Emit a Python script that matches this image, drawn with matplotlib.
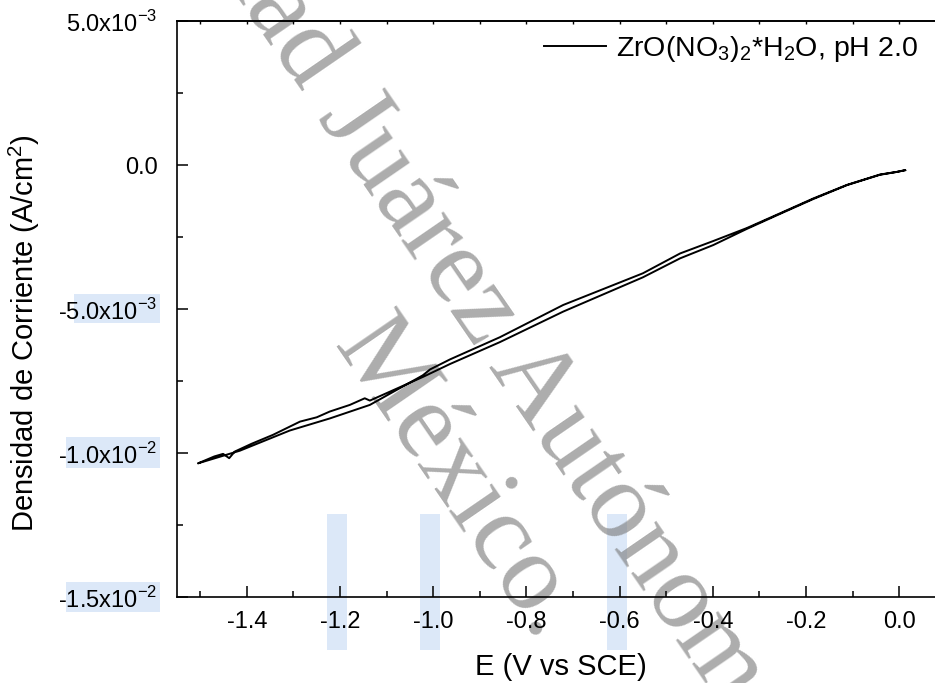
import matplotlib
matplotlib.use("Agg")
import matplotlib.pyplot as plt
import numpy as np
from matplotlib.patches import Rectangle
from matplotlib.ticker import MultipleLocator, FixedLocator, FixedFormatter

plt.rcParams['font.family'] = ['Liberation Sans', 'DejaVu Sans']

# cathodic sweep (0 -> -1.5 V), current density in mA/cm2
E_fwd = [0.013, -0.005, -0.041, -0.112, -0.184, -0.256, -0.327, -0.399, -0.470, -0.550,
         -0.721, -0.857, -0.964, -1.007, -1.022, -1.136, -1.222, -1.308, -1.415, -1.505]
j_fwd = [-0.18, -0.24, -0.33, -0.69, -1.16, -1.68, -2.19, -2.64, -3.07, -3.76,
         -4.86, -5.98, -6.75, -7.10, -7.30, -8.33, -8.80, -9.22, -9.92, -10.36]

# return sweep (-1.5 -> 0 V)
E_rev = [-1.505, -1.470, -1.451, -1.438, -1.426, -1.390, -1.344, -1.286, -1.250,
         -1.222, -1.179, -1.147, -1.136, -1.093, -1.021, -0.964, -0.857, -0.721,
         -0.550, -0.470, -0.399, -0.327, -0.256, -0.184, -0.112, -0.041, -0.005, 0.013]
j_rev = [-10.36, -10.12, -10.03, -10.18, -9.95, -9.68, -9.37, -8.91, -8.76,
         -8.56, -8.33, -8.10, -8.18, -7.87, -7.35, -6.91, -6.15, -5.09,
         -3.90, -3.24, -2.78, -2.22, -1.70, -1.18, -0.70, -0.34, -0.24, -0.18]

E = np.array(E_fwd + E_rev)
j = np.array(j_fwd + j_rev) * 1e-3

x_ticks = [-1.4, -1.2, -1.0, -0.8, -0.6, -0.4, -0.2, 0.0]
y_ticks = [-1.5e-2, -1.0e-2, -5.0e-3, 0.0, 5.0e-3]
y_labels = [r'-1.5x10$^{\mathregular{-2}}$', r'-1.0x10$^{\mathregular{-2}}$',
            r'-5.0x10$^{\mathregular{-3}}$', '0.0', r'5.0x10$^{\mathregular{-3}}$']
legend_label = r'ZrO(NO$_{\mathregular{3}}$)$_{\mathregular{2}}$*H$_{\mathregular{2}}$O, pH 2.0'

W, H = 935, 683
fig = plt.figure(figsize=(W / 100, H / 100), dpi=100)

# pale blue selection highlights (pixel boxes: x0, y0, x1, y1 from top-left)
highlights = [(74, 294, 160, 323), (66, 437, 160, 468), (66, 582, 160, 612),
              (327, 514, 347, 650), (420, 514, 440, 650), (607, 514, 627, 650)]
for x0, y0, x1, y1 in highlights:
    fig.patches.append(Rectangle((x0 / W, 1 - y1 / H), (x1 - x0) / W, (y1 - y0) / H,
                                 transform=fig.transFigure, facecolor='#dce8f8',
                                 edgecolor='none', zorder=-3))

# watermark
ang = -55.5
wm = dict(family='Liberation Serif', fontsize=79, color='#7a7a7a', alpha=0.62,
          rotation=ang, rotation_mode='anchor', va='baseline', zorder=-2)
ux, uy = np.cos(np.radians(ang)), np.sin(np.radians(ang))
p1 = (317 / W, 1 - 117 / H)
fig.text(p1[0], p1[1], 'Juárez Autónoma', ha='left', **wm)
fig.text(p1[0] - 27 * ux / W, p1[1] - 27 * uy / H, 'Universidad', ha='right', **wm)
fig.text(333 / W, 1 - 346 / H, 'México.', ha='left', **wm)

ax = fig.add_axes([177 / W, 1 - 597 / H, 1 - 177 / W, (597 - 21) / H])
ax.patch.set_visible(False)
ax.plot(E, j, color='black', lw=1.4, label=legend_label)

ax.set_xlim(-1.55, 0.077)
ax.set_ylim(-0.015, 0.005)
ax.xaxis.set_major_locator(FixedLocator(x_ticks))
ax.xaxis.set_minor_locator(MultipleLocator(0.1))
ax.yaxis.set_major_locator(FixedLocator(y_ticks))
ax.yaxis.set_major_formatter(FixedFormatter(y_labels))
ax.yaxis.set_minor_locator(MultipleLocator(2.5e-3))
ax.set_xticklabels([f'{v:.1f}' for v in x_ticks])

ax.tick_params(which='both', direction='in', width=1.1, labelsize=17)
ax.tick_params(which='major', length=8, pad=14)
ax.tick_params(which='minor', length=4)
ax.tick_params(axis='x', pad=10)
for s in ['left', 'bottom', 'top']:
    ax.spines[s].set_linewidth(1.2)
ax.spines['right'].set_visible(False)

top = ax.secondary_xaxis('top')
top.xaxis.set_major_locator(MultipleLocator(0.1))
top.tick_params(direction='in', length=2, width=1, labelsize=0, labeltop=False)
top.spines['top'].set_linewidth(1.2)

ax.set_xlabel('E (V vs SCE)', fontsize=21)
ax.set_ylabel('Densidad de Corriente (A/cm$^{\\mathregular{2}}$)', fontsize=21)
ax.xaxis.set_label_coords(0.5066, -0.097)
ax.yaxis.set_label_coords(-0.178, 0.459)

ax.legend(loc='upper right', bbox_to_anchor=(918 / W, 1 - 34 / H),
          bbox_transform=fig.transFigure, frameon=False, fontsize=20.5,
          handlelength=2.2, handletextpad=0.35, borderpad=0, borderaxespad=0)

fig.savefig('out.png', dpi=100)
